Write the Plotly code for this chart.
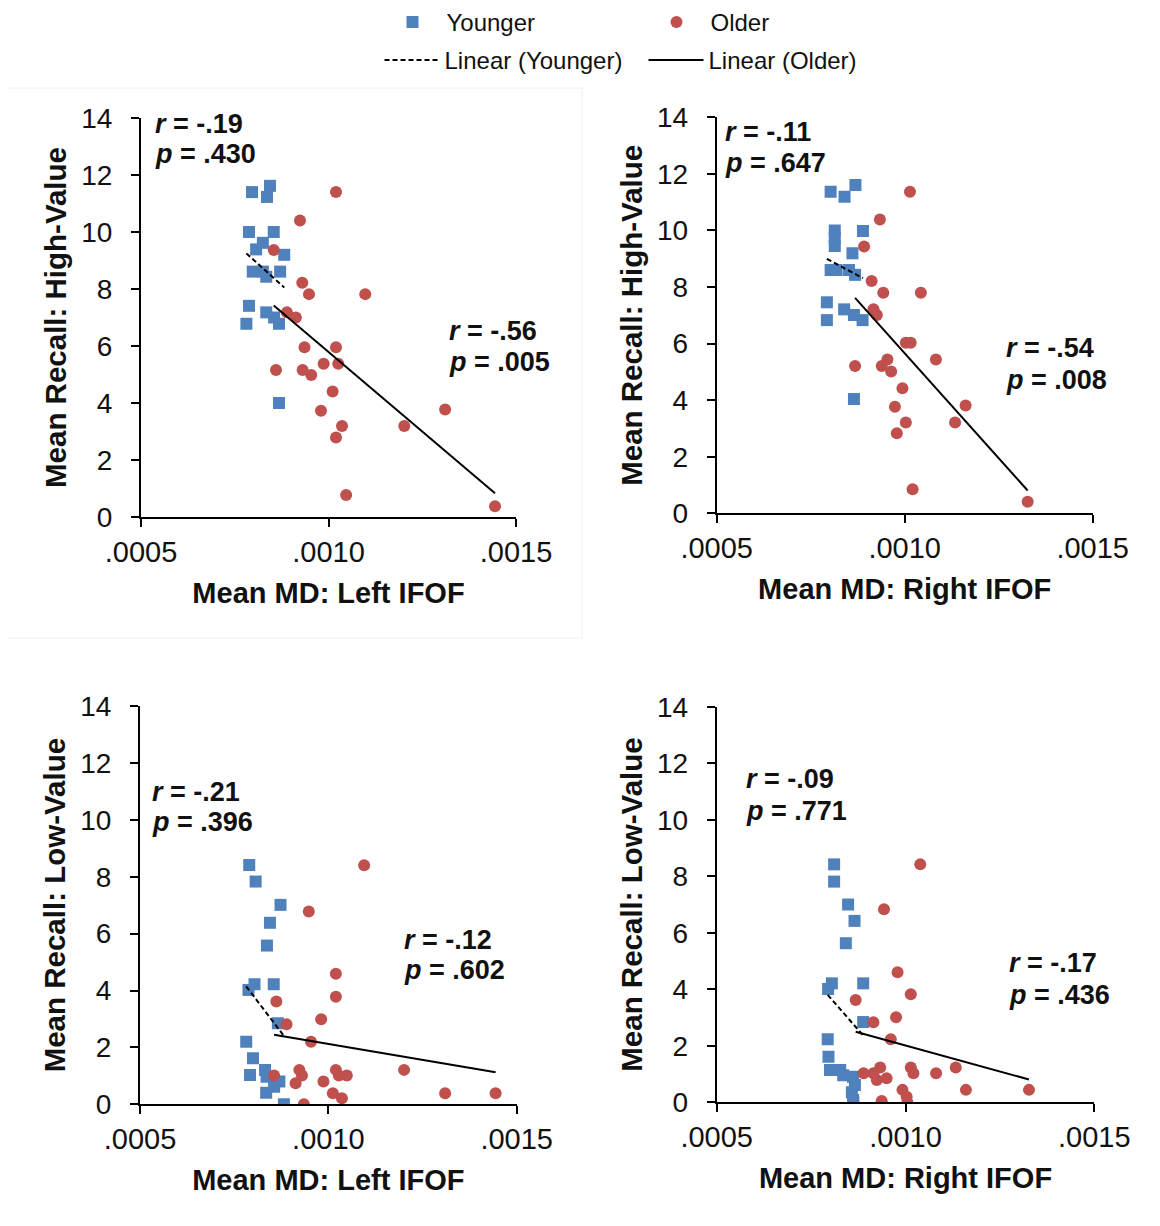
import numpy as np
import plotly.graph_objects as go

BLUE = "#4F81BD"
RED = "#C0504D"
FONT = "Liberation Sans, Arial, sans-serif"
TXT = "#111111"

# ---------------- data ----------------
# Panel 1: High-value recall vs mean MD, left IFOF
young_hl_x = [0.000796, 0.000844, 0.000836, 0.000788, 0.000854, 0.000825, 0.000807, 0.000882,
              0.000798, 0.000825, 0.000871, 0.000834, 0.000788, 0.000781, 0.000834, 0.000855,
              0.000868, 0.000868]
young_hl_y = [11.40, 11.62, 11.23, 10.00, 10.00, 9.62, 9.39, 9.20,
              8.61, 8.61, 8.61, 8.43, 7.41, 6.78, 7.18, 7.00,
              6.78, 4.00]
old_hl_x = [0.001020, 0.000924, 0.000854, 0.000930, 0.000948, 0.001098, 0.000889, 0.000913,
            0.000936, 0.001020, 0.000987, 0.001026, 0.000860, 0.000931, 0.000954, 0.001011,
            0.000980, 0.001311, 0.001036, 0.001202, 0.001020, 0.001047, 0.001444]
old_hl_y = [11.40, 10.40, 9.37, 8.22, 7.82, 7.82, 7.18, 7.00,
            5.96, 5.96, 5.38, 5.38, 5.16, 5.16, 4.98, 4.40,
            3.73, 3.77, 3.19, 3.19, 2.79, 0.77, 0.38]

# Panel 2: High-value recall vs mean MD, right IFOF
young_hr_x = [0.000803, 0.000840, 0.000869, 0.000814, 0.000814, 0.000814, 0.000889, 0.000861,
              0.000803, 0.000819, 0.000852, 0.000868, 0.000793, 0.000793, 0.000839, 0.000865,
              0.000888, 0.000865]
young_hr_y = [11.37, 11.19, 11.61, 10.00, 9.72, 9.45, 9.98, 9.19,
              8.60, 8.60, 8.60, 8.43, 7.46, 6.83, 7.21, 7.01,
              6.83, 4.04]
old_hr_x = [0.001014, 0.000934, 0.000892, 0.000912, 0.000943, 0.001043, 0.000917, 0.000926,
            0.001003, 0.001016, 0.000954, 0.001083, 0.000868, 0.000939, 0.000964, 0.000994,
            0.000974, 0.001162, 0.001003, 0.001134, 0.000979, 0.001021, 0.001327]
old_hr_y = [11.37, 10.39, 9.43, 8.21, 7.80, 7.80, 7.21, 7.01,
            6.03, 6.03, 5.44, 5.44, 5.21, 5.21, 5.01, 4.42,
            3.77, 3.81, 3.21, 3.21, 2.83, 0.85, 0.41]

# Panel 3: Low-value recall vs mean MD, left IFOF
young_ll_x = [0.000790, 0.000807, 0.000873, 0.000845, 0.000837, 0.000804, 0.000788, 0.000855,
              0.000866, 0.000782, 0.000800, 0.000792, 0.000832, 0.000836, 0.000870, 0.000856,
              0.000835, 0.000882]
young_ll_y = [8.41, 7.83, 7.01, 6.38, 5.58, 4.22, 4.02, 4.22,
              2.85, 2.20, 1.62, 1.03, 1.21, 0.97, 0.80, 0.62,
              0.41, 0.00]
old_ll_x = [0.001095, 0.000948, 0.001020, 0.001020, 0.000862, 0.000981, 0.000889, 0.000954,
            0.001201, 0.000856, 0.000923, 0.000930, 0.000913, 0.000987, 0.001020, 0.001028,
            0.001049, 0.001012, 0.001036, 0.001310, 0.001444, 0.000935]
old_ll_y = [8.40, 6.78, 4.59, 3.78, 3.61, 2.99, 2.81, 2.20,
            1.21, 1.01, 1.21, 1.01, 0.74, 0.80, 1.21, 1.01,
            1.01, 0.39, 0.21, 0.39, 0.39, 0.00]

# Panel 4: Low-value recall vs mean MD, right IFOF
young_lr_x = [0.000811, 0.000811, 0.000848, 0.000865, 0.000842, 0.000805, 0.000795, 0.000888,
              0.000888, 0.000794, 0.000796, 0.000800, 0.000827, 0.000835, 0.000861, 0.000866,
              0.000858, 0.000861, 0.000862]
young_lr_y = [8.42, 7.81, 7.00, 6.42, 5.63, 4.21, 4.01, 4.21,
              2.84, 2.23, 1.61, 1.14, 1.14, 0.96, 0.90, 0.61,
              0.36, 0.08, 0.00]
old_lr_x = [0.001039, 0.000943, 0.000979, 0.001014, 0.000868, 0.000975, 0.000915, 0.000961,
            0.001133, 0.000889, 0.000933, 0.000915, 0.000924, 0.000950, 0.001014, 0.001021,
            0.001081, 0.000992, 0.001003, 0.001160, 0.001327, 0.000937, 0.001005]
old_lr_y = [8.42, 6.83, 4.60, 3.82, 3.62, 3.01, 2.83, 2.23,
            1.23, 1.03, 1.23, 1.03, 0.79, 0.85, 1.23, 1.03,
            1.03, 0.44, 0.20, 0.44, 0.44, 0.05, 0.00]

# statistics shown on each panel (younger, older)
young_r = ["-.19", "-.11", "-.21", "-.09"]
young_p = [".430", ".647", ".396", ".771"]
old_r = ["-.56", "-.54", "-.12", "-.17"]
old_p = [".005", ".008", ".602", ".436"]

x_titles = ["Mean MD: Left IFOF", "Mean MD: Right IFOF", "Mean MD: Left IFOF", "Mean MD: Right IFOF"]
y_titles = ["Mean Recall: High-Value", "Mean Recall: High-Value",
            "Mean Recall: Low-Value", "Mean Recall: Low-Value"]
x_tick_vals = [0.0005, 0.0010, 0.0015]
x_tick_text = [".0005", ".0010", ".0015"]
y_tick_vals = [0, 2, 4, 6, 8, 10, 12, 14]

# label anchor positions in data coords: (x, y of "r" line, y of "p" line)
young_lab_pos = [(0.000532, 13.79, 12.73), (0.000517, 13.48, 12.38),
                 (0.000527, 10.98, 9.92), (0.000572, 11.44, 10.31)]
old_lab_pos = [(0.001316, 6.54, 5.45), (0.001264, 5.84, 4.71),
               (0.001196, 5.78, 4.72), (0.001269, 4.93, 3.80)]

panels = [
    (young_hl_x, young_hl_y, old_hl_x, old_hl_y),
    (young_hr_x, young_hr_y, old_hr_x, old_hr_y),
    (young_ll_x, young_ll_y, old_ll_x, old_ll_y),
    (young_lr_x, young_lr_y, old_lr_x, old_lr_y),
]

# plot-area boxes in page pixels (left, right, top, bottom)
W, H = 1160, 1226
OFF = 8  # the page body margin shifts the figure by 8 px
boxes = [
    (141, 516, 118, 517),
    (716.7, 1092.7, 117.3, 513.3),
    (140, 516.7, 706, 1104.3),
    (716.7, 1094.3, 706.7, 1102.3),
]


def px_x(v):
    return (v - OFF) / W


def px_y(v):
    return 1 - (v - OFF) / H


fig = go.Figure()


def fit_line(x, y):
    x = np.asarray(x)
    y = np.asarray(y)
    k, b = np.polyfit(x, y, 1)
    xs = np.array([x.min(), x.max()])
    return xs, k * xs + b


for i, (yx, yy, ox, oy) in enumerate(panels):
    n = "" if i == 0 else str(i + 1)
    xa, ya = "x" + n, "y" + n
    first = i == 0
    fig.add_trace(go.Scatter(x=yx, y=yy, mode="markers", name="Younger", xaxis=xa, yaxis=ya,
                             marker=dict(symbol="square", size=12, color=BLUE),
                             showlegend=first, legend="legend"))
    fig.add_trace(go.Scatter(x=ox, y=oy, mode="markers", name="Older", xaxis=xa, yaxis=ya,
                             marker=dict(symbol="circle", size=12, color=RED),
                             showlegend=first, legend="legend"))
    fx, fy = fit_line(yx, yy)
    fig.add_trace(go.Scatter(x=fx, y=fy, mode="lines", name="Linear (Younger)", xaxis=xa, yaxis=ya,
                             line=dict(color="black", width=2, dash="5px,3px"),
                             showlegend=first, legend="legend2"))
    fx, fy = fit_line(ox, oy)
    fig.add_trace(go.Scatter(x=fx, y=fy, mode="lines", name="Linear (Older)", xaxis=xa, yaxis=ya,
                             line=dict(color="black", width=2),
                             showlegend=first, legend="legend2"))

    x0, x1, y0, y1 = boxes[i]
    axis_common = dict(showline=True, linecolor="black", linewidth=2, ticks="outside",
                       ticklen=8, tickwidth=2, tickcolor="black", showgrid=False, zeroline=False,
                       automargin=False)
    fig.layout["xaxis" + n] = dict(
        domain=[px_x(x0), px_x(x1)], anchor=ya, range=[0.0005, 0.0015],
        tickvals=x_tick_vals, ticktext=x_tick_text, ticklabelstandoff=0,
        tickfont=dict(family=FONT, size=29, color=TXT),
        title=dict(text="<b>" + x_titles[i] + "</b>", standoff=16,
                   font=dict(family=FONT, size=29, color=TXT)),
        **axis_common)
    fig.layout["yaxis" + n] = dict(
        domain=[px_y(y1), px_y(y0)], anchor=xa, range=[0, 14],
        tickvals=y_tick_vals, ticklabelstandoff=13,
        tickfont=dict(family=FONT, size=28, color=TXT),
        title=dict(text="<b>" + y_titles[i] + "</b>", standoff=6,
                   font=dict(family=FONT, size=29.5, color=TXT)),
        **axis_common)

    labels = [(young_lab_pos[i], young_r[i], young_p[i]), (old_lab_pos[i], old_r[i], old_p[i])]
    for (px, ry, py), r, p in labels:
        for yy_, txt in ((ry, "<b><i>r</i> = %s</b>" % r), (py, "<b><i>p</i> = %s</b>" % p)):
            fig.add_annotation(x=px, y=yy_, xref=xa, yref=ya, xanchor="left", yanchor="middle",
                               showarrow=False, align="left", text=txt,
                               font=dict(family=FONT, size=27, color=TXT))

# faint frame around the top-left panel (as in the source image)
fig.add_shape(type="rect", xref="paper", yref="paper", x0=px_x(5), x1=px_x(582),
              y0=px_y(638), y1=px_y(88), line=dict(color="#eeeeee", width=1), layer="below")

fig.update_layout(
    width=W, height=H, margin=dict(l=0, r=0, t=0, b=0, autoexpand=False),
    paper_bgcolor="white", plot_bgcolor="white",
    font=dict(family=FONT, color=TXT),
    legend=dict(orientation="h", x=px_x(378.5), y=1 + 8 / H, xanchor="left", yanchor="top",
                entrywidth=191, entrywidthmode="pixels", bgcolor="rgba(0,0,0,0)",
                font=dict(family=FONT, size=24, color=TXT), itemwidth=58),
    legend2=dict(orientation="h", x=px_x(379.5), y=1 - 30 / H, xanchor="left", yanchor="top",
                 entrywidth=194, entrywidthmode="pixels", bgcolor="rgba(0,0,0,0)",
                 font=dict(family=FONT, size=24, color=TXT), itemwidth=55),
)

fig.write_html("out.html")
